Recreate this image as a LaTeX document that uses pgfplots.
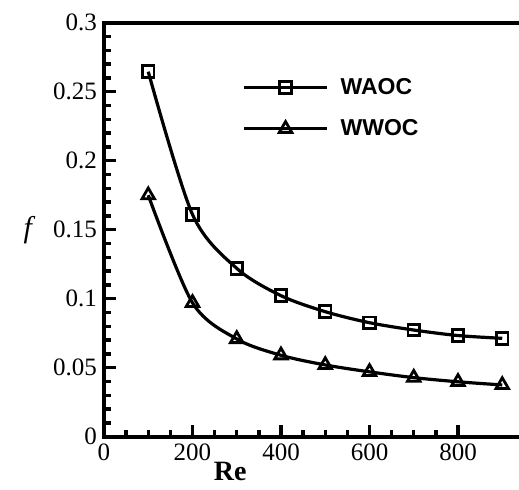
\documentclass[border=0pt]{standalone}
\usepackage{pgfplots}
\pgfplotsset{compat=1.18}
\usepackage{fontspec}
\setmainfont{Liberation Serif}
\newfontfamily\legfont{Liberation Sans}
\begin{document}
\begin{tikzpicture}
\begin{axis}[
  scale only axis,
  width=221.25pt, height=207pt,
  xmin=0, xmax=1000, ymin=0, ymax=0.3,
  xtick={0,200,400,600,800},
  ytick={0,0.05,0.1,0.15,0.2,0.25,0.3},
  minor x tick num=3,
  minor y tick num=4,
  xtick pos=bottom, ytick pos=left,
  tick align=inside,
  major tick length=6pt, minor tick length=3.5pt,
  every major tick/.append style={line width=1.7pt, black},
  every minor tick/.append style={line width=1.7pt, black},
  axis line style={line width=2pt},
  scaled y ticks=false,
  /pgf/number format/fixed,
  /pgf/number format/assume math mode=true,
  tick label style={font=\fontsize{12.5}{14}\selectfont},
  xlabel={\textbf{Re}},
  ylabel={\textit{f}},
  xlabel style={font=\fontsize{14}{16}\selectfont, at={(ticklabel cs:0.285)}, anchor=near ticklabel, yshift=6pt},
  ylabel style={font=\fontsize{15}{16}\selectfont, rotate=-90, xshift=-2pt},
  legend cell align=left,
  legend style={draw=none, fill=none, at={(axis cs:312,0.263)}, anchor=north west,
    font=\legfont\bfseries\fontsize{11.5}{13}\selectfont, row sep=7pt, inner sep=0pt,
    nodes={inner xsep=6pt}},
  legend image code/.code={
    \draw[mark repeat=2, mark phase=2, #1] plot coordinates {(0pt,0pt) (20.75pt,0pt) (41.5pt,0pt)};
  },
]
\addplot[black, line width=1.6pt, smooth, mark=square, mark size=2.9pt, mark options={line width=1.4pt, solid, fill=white}]
coordinates {(100,0.2645) (200,0.161) (300,0.122) (400,0.1022) (500,0.0906) (600,0.0826) (700,0.0773) (800,0.0733) (900,0.0713)};
\addlegendentry{WAOC}
\addplot[black, line width=1.6pt, smooth, mark=triangle, mark size=3.6pt, mark options={line width=1.4pt, solid, fill=white}]
coordinates {(100,0.175) (200,0.097) (300,0.0708) (400,0.059) (500,0.052) (600,0.047) (700,0.0428) (800,0.0398) (900,0.0375)};
\addlegendentry{WWOC}
\coordinate (bl) at (axis cs:0,0);
\end{axis}
\pgfresetboundingbox
\path[use as bounding box] ([xshift=-52pt,yshift=-26.15pt]bl) rectangle ([xshift=207.5pt,yshift=218.35pt]bl);
\end{tikzpicture}
\end{document}
